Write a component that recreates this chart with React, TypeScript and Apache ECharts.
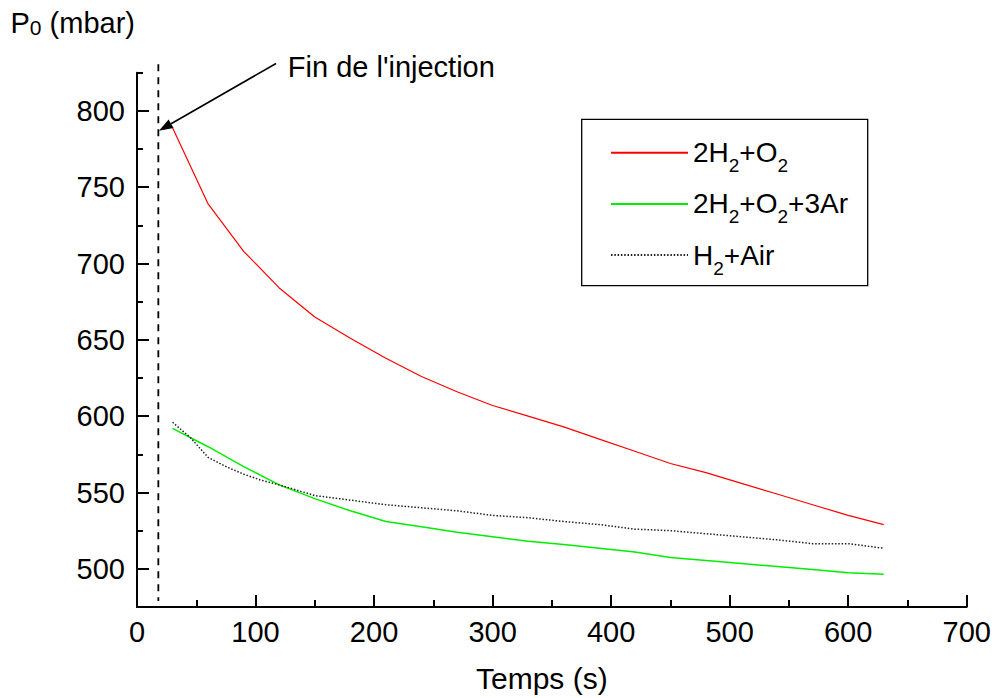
import React, { useEffect, useRef } from 'react';
import * as echarts from 'echarts';

const FONT = 'Liberation Sans, Arial, Helvetica, sans-serif';

// ---- data ----
const seriesNames = ['2H2+O2', '2H2+O2+3Ar', 'H2+Air'];
const legendLabels = ['2H{s|2}+O{s|2}', '2H{s|2}+O{s|2}+3Ar', 'H{s|2}+Air'];

const timeRed = [30, 60, 90, 120, 150, 180, 210, 240, 270, 300, 330, 360, 390, 420, 450, 480, 510, 540, 570, 600, 630];
const pressureRed = [789, 739, 708, 684, 665, 651, 638, 626, 616, 607, 600, 593, 585, 577, 569, 563, 556, 549, 542, 535, 529];

const timeGreen = [30, 60, 90, 120, 150, 180, 210, 240, 270, 300, 330, 360, 390, 420, 450, 480, 510, 540, 570, 600, 630];
const pressureGreen = [592, 580, 567, 555, 546, 538, 531, 527.5, 524, 521, 518, 516, 513.5, 511, 507.5, 505.5, 503.5, 501.5, 499.5, 497.5, 496.5];

const timeAir = [30, 45, 60, 75, 90, 105, 120, 150, 180, 210, 240, 270, 300, 330, 360, 390, 420, 450, 480, 510, 540, 570, 600, 630];
const pressureAir = [596, 586, 573, 567, 562, 558, 555, 548, 545, 542, 540, 538, 535, 533.5, 531, 529, 526, 525, 523, 521, 519, 516.5, 516.5, 513.5];

const xMin = 0;
const xMax = 700;
const xInterval = 100;
const yMin = 475;
const yMax = 825;
const yMajorTicks = [500, 550, 600, 650, 700, 750, 800];
const yMinorTicks = [475, 525, 575, 625, 675, 725, 775, 825];

const injectionTime = 18;
const injectionSpan = [830.5, 479];
const arrowFrom = [117.3, 831];
const arrowTo = [18.5, 787];

const titleText = 'P{s|0} (mbar)';
const xName = 'Temps (s)';
const annotationText = "Fin de l'injection";

const zip = (xs: number[], ys: number[]) => xs.map((x, i) => [x, ys[i]]);

export default function App() {
  const ref = useRef<HTMLDivElement>(null);

  useEffect(() => {
    if (!ref.current) return;
    const chart = echarts.init(ref.current, undefined, { renderer: 'svg' });

    const axisLineStyle = { color: '#000', width: 2 };

    const option: any = {
      animation: false,
      backgroundColor: '#fff',
      textStyle: { fontFamily: FONT },
      grid: {
        left: 137,
        right: 27.3,
        top: 72.7,
        bottom: 91,
        containLabel: false,
        outerBoundsMode: 'none',
      },
      xAxis: {
        type: 'value',
        min: xMin,
        max: xMax,
        interval: xInterval,
        name: xName,
        nameLocation: 'middle',
        nameGap: 56,
        nameTextStyle: { fontFamily: FONT, fontSize: 30, color: '#000', padding: [0, 20, 0, 0] },
        axisLine: { show: true, onZero: false, lineStyle: axisLineStyle },
        axisTick: { show: true, inside: true, length: 12, lineStyle: axisLineStyle },
        minorTick: { show: true, splitNumber: 2, length: 7, lineStyle: axisLineStyle },
        axisLabel: { fontFamily: FONT, fontSize: 29, color: '#000', margin: 10 },
        splitLine: { show: false },
        minorSplitLine: { show: false },
      },
      yAxis: [
        {
          type: 'value',
          min: yMin,
          max: yMax,
          position: 'left',
          axisLine: { show: true, onZero: false, lineStyle: axisLineStyle },
          axisTick: { show: true, inside: true, length: 12, lineStyle: axisLineStyle, customValues: yMajorTicks },
          axisLabel: { fontFamily: FONT, fontSize: 29, color: '#000', margin: 12, customValues: yMajorTicks },
          splitLine: { show: false },
        },
        {
          type: 'value',
          min: yMin,
          max: yMax,
          position: 'left',
          offset: 0,
          axisLine: { show: false },
          axisTick: { show: true, inside: true, length: 6, lineStyle: axisLineStyle, customValues: yMinorTicks },
          axisLabel: { show: false },
          splitLine: { show: false },
        },
      ],
      legend: {
        orient: 'vertical',
        left: 610,
        top: 135.7,
        padding: 0,
        itemWidth: 77,
        itemHeight: 14,
        itemGap: 11.7,
        selectedMode: false,
        data: seriesNames,
        itemStyle: { opacity: 0 },
        formatter: (name: string) => legendLabels[seriesNames.indexOf(name)],
        textStyle: {
          fontFamily: FONT,
          fontSize: 28,
          color: '#000',
          lineHeight: 34,
          rich: {
            s: { fontFamily: FONT, fontSize: 19, color: '#000', lineHeight: 8, height: 8, verticalAlign: 'bottom' },
          },
        },
      },
      graphic: [
        {
          type: 'rect',
          shape: { x: 581.7, y: 119.3, width: 286, height: 166.4 },
          style: { fill: 'none', stroke: '#000', lineWidth: 1.3 },
          silent: true,
        },
        {
          type: 'text',
          x: 10.5,
          y: 23.3,
          style: {
            text: titleText,
            fontFamily: FONT,
            fontSize: 29,
            fill: '#000',
            lineHeight: 34,
            align: 'left',
            verticalAlign: 'middle',
            rich: {
              s: { fontFamily: FONT, fontSize: 21, fill: '#000', lineHeight: 25.6, height: 25.6, verticalAlign: 'bottom' },
            },
          },
          silent: true,
        },
        {
          type: 'text',
          x: 287.8,
          y: 67,
          style: {
            text: annotationText,
            fontFamily: FONT,
            fontSize: 29,
            fill: '#000',
            align: 'left',
            verticalAlign: 'middle',
          },
          silent: true,
        },
      ],
      series: [
        {
          name: seriesNames[0],
          type: 'line',
          data: zip(timeRed, pressureRed),
          symbol: 'none',
          lineStyle: { color: '#ff0000', width: 1.2 },
          itemStyle: { color: '#ff0000' },
        },
        {
          name: seriesNames[1],
          type: 'line',
          data: zip(timeGreen, pressureGreen),
          symbol: 'none',
          lineStyle: { color: '#00ee00', width: 1.5 },
          itemStyle: { color: '#00ee00' },
        },
        {
          name: seriesNames[2],
          type: 'line',
          data: zip(timeAir, pressureAir),
          symbol: 'none',
          lineStyle: { color: '#222', width: 1.5, type: [1.5, 1.8] },
          itemStyle: { color: '#222' },
        },
        {
          name: 'injection',
          type: 'line',
          data: [[injectionTime, injectionSpan[0]], [injectionTime, injectionSpan[1]]],
          symbol: 'none',
          clip: false,
          silent: true,
          lineStyle: { color: '#000', width: 1.8, type: [7, 6] },
        },
        {
          name: 'arrow',
          type: 'custom',
          clip: false,
          silent: true,
          data: [[arrowFrom[0], arrowFrom[1], arrowTo[0], arrowTo[1]]],
          encode: { x: [0, 2], y: [1, 3] },
          renderItem: (_params: any, api: any) => {
            const p0 = api.coord([api.value(0), api.value(1)]);
            const p1 = api.coord([api.value(2), api.value(3)]);
            const dx = p1[0] - p0[0];
            const dy = p1[1] - p0[1];
            const len = Math.hypot(dx, dy);
            const ux = dx / len;
            const uy = dy / len;
            const headLen = 14;
            const headW = 5;
            const bx = p1[0] - ux * headLen;
            const by = p1[1] - uy * headLen;
            return {
              type: 'group',
              children: [
                {
                  type: 'line',
                  shape: { x1: p0[0], y1: p0[1], x2: bx, y2: by },
                  style: { stroke: '#000', lineWidth: 1.6 },
                },
                {
                  type: 'polygon',
                  shape: {
                    points: [
                      [p1[0], p1[1]],
                      [bx - uy * headW, by + ux * headW],
                      [bx + uy * headW, by - ux * headW],
                    ],
                  },
                  style: { fill: '#000' },
                },
              ],
            };
          },
        },
      ],
    };

    chart.setOption(option);
    return () => {
      chart.dispose();
    };
  }, []);

  return (
    <div
      ref={ref}
      style={{ position: 'fixed', left: 0, top: 0, width: 994, height: 698, background: '#fff' }}
    />
  );
}
